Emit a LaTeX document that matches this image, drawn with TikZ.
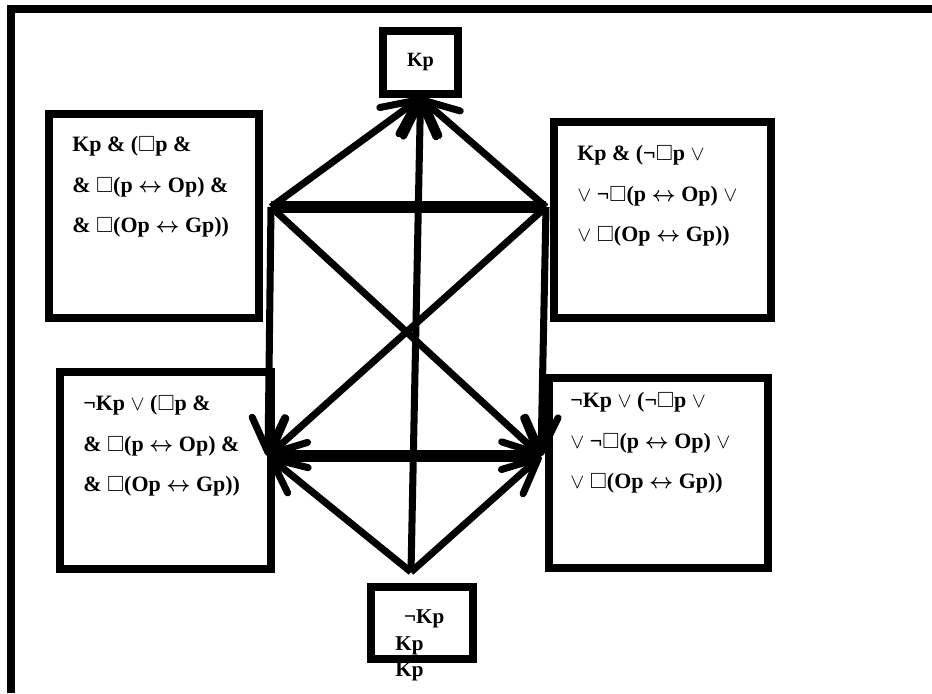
\documentclass[tikz,border=0pt]{standalone}
\usepackage{fontspec}
\setmainfont{Liberation Serif}
\usepackage{amssymb}
\usetikzlibrary{arrows.meta}
\newcommand{\vel}{$\vee$}
\newcommand{\equi}{{\boldmath$\leftrightarrow$}}
\newcommand{\nec}{$\square$}
\tikzset{
  box/.style={draw, line width=4.5pt, inner sep=0pt},
  formula/.style={anchor=north west, align=left, inner sep=0pt, font=\bfseries\fontsize{12.5}{23}\selectfont},
  link/.style={-{Straight Barb[length=7mm, width=6.5mm, round]}, line width=4pt},
  bar/.style={line width=6.8pt},
  border/.style={line width=4pt},
}

\begin{document}
\begin{tikzpicture}[x=0.02cm, y=-0.02cm]
  \useasboundingbox (0,0) rectangle (932,693);
  \draw[border] (11,693) -- (11,9) -- (932,9);

  % Kp and its negation
  \node[box, minimum width=1.5cm, minimum height=1.26cm, font=\bfseries\fontsize{11.5}{14}\selectfont] (kp) at (420.5,62.5) {Kp};
  \node[box, minimum width=2.04cm, minimum height=1.44cm] (nkp) at (422,623) {};
  \node[formula, font=\bfseries\fontsize{12}{15.3}\selectfont] (nkptext) at (395,609) {\hspace{5pt}¬Kp\\Kp\\Kp};

  % the four formula boxes
  \node[box, minimum width=4.2cm, minimum height=4.08cm] (q1) at (154,216) {};
  \node[formula] (q1text) at (72,136) {Kp \& (\nec p \&\\\& \nec(p \equi{} Op) \&\\\& \nec(Op \equi{} Gp))};
  \node[box, minimum width=4.34cm, minimum height=3.92cm] (q2) at (662.5,220) {};
  \node[formula] (q2text) at (577,145) {Kp \& (¬\nec p \vel\\\vel{} ¬\nec(p \equi{} Op) \vel\\\vel{} \nec(Op \equi{} Gp))};
  \node[box, minimum width=4.22cm, minimum height=3.94cm] (q3) at (165.5,470.5) {};
  \node[formula] (q3text) at (83,395) {¬Kp \vel{} (\nec p \&\\\& \nec(p \equi{} Op) \&\\\& \nec(Op \equi{} Gp))};
  \node[box, minimum width=4.38cm, minimum height=3.8cm] (q4) at (658.5,473) {};
  \node[formula] (q4text) at (570,392) {¬Kp \vel{} (¬\nec p \vel\\\vel{} ¬\nec(p \equi{} Op) \vel\\\vel{} \nec(Op \equi{} Gp))};

  % junctions
  \coordinate (lt) at (271,207);
  \coordinate (rt) at (546,207);
  \coordinate (lb) at (268,456);
  \coordinate (rb) at (541,456);
  \coordinate (bt) at (411,572);

  \draw[bar] (lt) -- (rt);
  \draw[bar] (lb) -- (rb);
  \draw[link] (lt) -- (kp.south);
  \draw[link] (rt) -- (kp.south);
  \draw[link] (bt) -- (kp.south);
  \draw[link] (lt) -- (lb);
  \draw[link] (rt) -- (rb);
  \draw[link] (lt) -- (rb);
  \draw[link] (rt) -- (lb);
  \draw[link] (bt) -- (lb);
  \draw[link] (bt) -- (rb);
\end{tikzpicture}
\end{document}
